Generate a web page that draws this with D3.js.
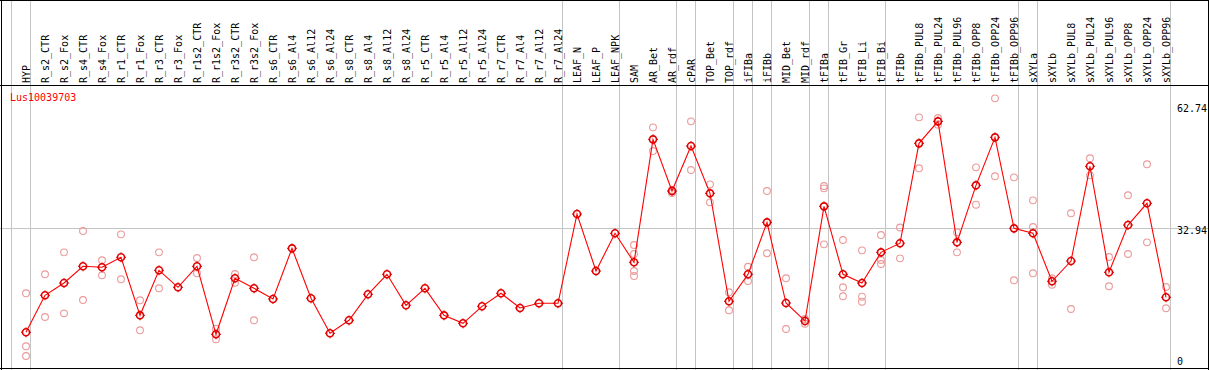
<!DOCTYPE html>
<html>
<head>
<meta charset="utf-8">
<script src="https://cdn.jsdelivr.net/npm/d3@7"></script>
<style>
  html, body { margin: 0; padding: 0; background: #fff; }
  svg { display: block; }
  text { font-family: "DejaVu Sans Mono", "Liberation Mono", monospace; font-size: 10px; }
</style>
</head>
<body>
<svg id="chart" width="1209" height="370"></svg>
<script>
const title = "Lus10039703";

const categories = [
  "HYP", "R_s2_CTR", "R_s2_Fox", "R_s4_CTR", "R_s4_Fox", "R_r1_CTR", "R_r1_Fox",
  "R_r3_CTR", "R_r3_Fox", "R_r1s2_CTR", "R_r1s2_Fox", "R_r3s2_CTR", "R_r3s2_Fox",
  "R_s6_CTR", "R_s6_Al4", "R_s6_Al12", "R_s6_Al24", "R_s8_CTR", "R_s8_Al4", "R_s8_Al12",
  "R_s8_Al24", "R_r5_CTR", "R_r5_Al4", "R_r5_Al12", "R_r5_Al24", "R_r7_CTR", "R_r7_Al4",
  "R_r7_Al12", "R_r7_Al24", "LEAF_N", "LEAF_P", "LEAF_NPK", "SAM", "AR_Bet", "AR_rdf",
  "cPAR", "TOP_Bet", "TOP_rdf", "iFIBa", "iFIBb", "MID_Bet", "MID_rdf", "tFIBa",
  "tFIB_Gr", "tFIB_Li", "tFIB_Bi", "tFIBb", "tFIBb_PUL8", "tFIBb_PUL24", "tFIBb_PUL96",
  "tFIBb_OPP8", "tFIBb_OPP24", "tFIBb_OPP96", "sXYLa", "sXYLb", "sXYLb_PUL8",
  "sXYLb_PUL24", "sXYLb_PUL96", "sXYLb_OPP8", "sXYLb_OPP24", "sXYLb_OPP96"
];

const meanValues = [
  7.45, 16.52, 19.53, 23.62, 23.38, 25.83, 11.61,
  22.64, 18.48, 23.62, 6.96, 20.68, 18.23,
  15.61, 28.03, 15.78, 7.20, 10.39, 16.76, 21.66,
  14.07, 18.23, 11.61, 9.65, 13.82, 17.01, 13.40,
  14.56, 14.56, 36.44, 22.47, 31.71, 24.60, 54.74, 42.07,
  53.10, 41.51, 15.05, 21.66, 34.40, 14.63, 10.22, 38.32,
  21.66, 19.53, 27.05, 29.28, 53.76, 59.15, 29.50,
  43.47, 55.23, 32.93, 31.71, 19.95, 24.92,
  48.13, 22.15, 33.74, 39.06, 16.03
];

const replicateValues = [
  [17.01, 4.02, 1.64], [21.66, 11.20], [27.05, 12.10], [32.27, 15.36], [25.09, 21.42],
  [31.46, 20.44], [15.29, 7.94], [27.05, 18.23], [], [25.66, 21.91], [8.33, 5.73],
  [21.73, 19.60], [25.83, 10.39],
  [], [], [], [], [], [], [], [], [], [], [], [], [], [], [], [],
  [], [], [],
  [28.84, 26.64, 22.47, 21.24], [57.68, 51.87], [42.32, 41.59],
  [59.15, 47.22], [43.71, 39.30], [17.25, 12.84], [23.52, 20.02], [42.07, 26.81],
  [20.68, 8.26], [10.71, 9.56], [43.30, 42.73, 29.01],
  [30.07, 18.48, 16.27], [27.54, 16.17, 14.95], [31.29, 25.17, 24.19], [33.13, 25.58],
  [60.13, 47.64], [59.96, 58.34], [31.95, 27.05],
  [47.88, 38.72], [64.79, 45.68], [45.43, 20.19], [39.79, 33.25, 21.91], [20.68, 19.11],
  [36.61, 13.16], [50.09, 45.92], [25.90, 18.72], [41.02, 26.64], [48.62, 29.50],
  [18.55, 13.33]
];

// separators are drawn after these categories (plus one before the first)
const groupEnds = [
  "HYP", "R_r7_Al24", "LEAF_NPK", "AR_rdf", "cPAR", "TOP_rdf", "iFIBa", "iFIBb",
  "MID_rdf", "tFIBa", "tFIB_Bi", "tFIBb_OPP96", "sXYLa", "sXYLb_OPP96"
];

const yTicks = [62.74, 32.94, 0];
const gridValues = [32.94];

const W = 1209, H = 370;
const svg = d3.select("#chart");

const x = d3.scalePoint().domain(categories).range([26, 1166]);
const step = x.step();
const y = d3.scaleLinear().domain([0, 62.74]).range([362.7, 106.7]);

const headerBottom = 85.5;
const bottomY = 368.5;

// vertical group separators (span full height)
const sepX = [x(categories[0]) - step, ...groupEnds.map(c => x(c))].map(v => Math.round(v + 4) + 0.5);
svg.append("g").selectAll("line").data(sepX).join("line")
  .attr("x1", d => d).attr("x2", d => d)
  .attr("y1", 0).attr("y2", H)
  .attr("stroke", "#c4c4c4").attr("stroke-width", 1);

// horizontal gridline
svg.append("g").selectAll("line").data(gridValues).join("line")
  .attr("x1", 0).attr("x2", W)
  .attr("y1", d => Math.round(y(d)) + 0.5).attr("y2", d => Math.round(y(d)) + 0.5)
  .attr("stroke", "#c4c4c4").attr("stroke-width", 1);

// frame
const frame = svg.append("g").attr("stroke", "#000").attr("stroke-width", 1);
frame.append("line").attr("x1", 0).attr("x2", W).attr("y1", 0.5).attr("y2", 0.5);
frame.append("line").attr("x1", 0).attr("x2", W).attr("y1", headerBottom).attr("y2", headerBottom);
frame.append("line").attr("x1", 0).attr("x2", W).attr("y1", bottomY).attr("y2", bottomY);
frame.append("line").attr("x1", 1.5).attr("x2", 1.5).attr("y1", 0).attr("y2", H);
frame.append("line").attr("x1", 1208.5).attr("x2", 1208.5).attr("y1", 0).attr("y2", H);

// rotated category labels
svg.append("g").selectAll("text").data(categories).join("text")
  .attr("transform", d => `translate(${x(d) + 3.5},83) rotate(-90)`)
  .attr("text-anchor", "start")
  .attr("fill", "#000")
  .text(d => d);

// title
svg.append("text").attr("x", 10).attr("y", 101).attr("fill", "#ff0000").text(title);

// right-side value labels
svg.append("g").selectAll("text").data(yTicks).join("text")
  .attr("x", 1177)
  .attr("y", d => Math.min(y(d) + 5.5, 364.5))
  .attr("fill", "#000")
  .text(d => d === 0 ? "0" : d.toFixed(2));

// replicate points
const reps = [];
categories.forEach((c, i) => replicateValues[i].forEach(v => reps.push({ c, v })));
svg.append("g").selectAll("circle").data(reps).join("circle")
  .attr("cx", d => x(d.c)).attr("cy", d => y(d.v)).attr("r", 3.4)
  .attr("fill", "none").attr("stroke", "#eb9a9a").attr("stroke-width", 1.1);

// mean line
const line = d3.line().x((d, i) => x(categories[i])).y(d => y(d));
svg.append("path").datum(meanValues).attr("d", line)
  .attr("fill", "none").attr("stroke", "#ff0000").attr("stroke-width", 1.1);

// mean markers
const mk = svg.append("g").selectAll("g").data(meanValues).join("g")
  .attr("transform", (d, i) => `translate(${x(categories[i])},${y(d)})`);
mk.append("circle").attr("r", 3.5).attr("fill", "none")
  .attr("stroke", "#e00000").attr("stroke-width", 1.6);
mk.append("path").attr("d", "M0,-5V-3.5M0,3.5V5M-5,0H-3.5M3.5,0H5")
  .attr("stroke", "#e00000").attr("stroke-width", 1);
</script>
</body>
</html>
